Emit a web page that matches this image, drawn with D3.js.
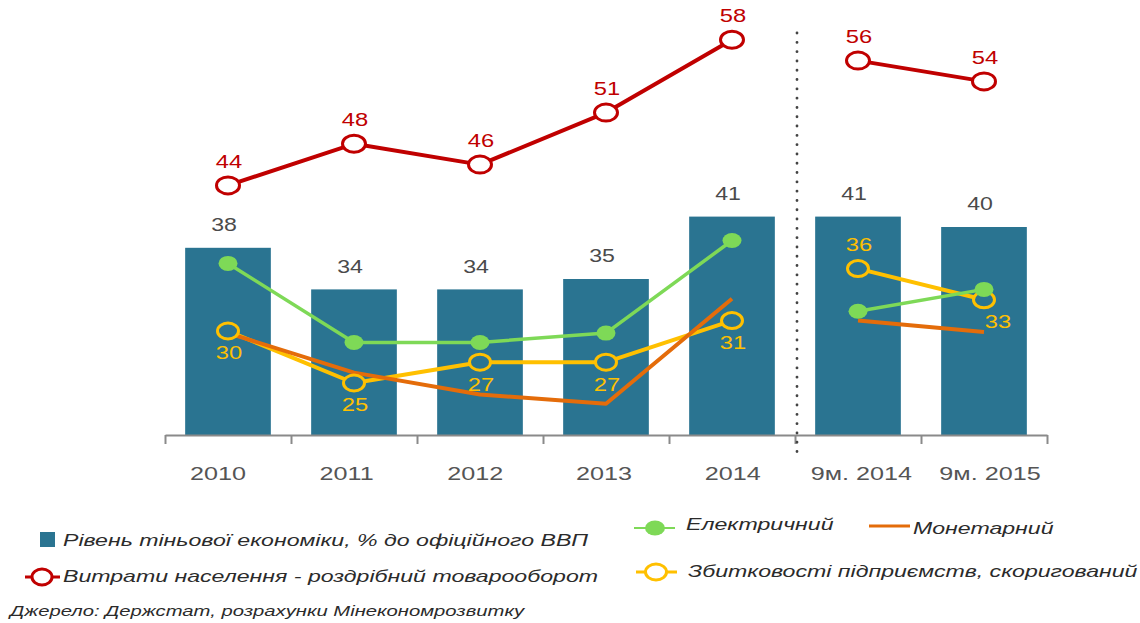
<!DOCTYPE html>
<html>
<head>
<meta charset="utf-8">
<script src="https://cdn.jsdelivr.net/npm/d3@7"></script>
<style>
  html, body { margin: 0; padding: 0; background: #fff; }
  svg { display: block; font-family: "Liberation Sans", Arial, sans-serif; }
</style>
</head>
<body>
<svg id="chart" width="1140" height="623"></svg>
<script>
// дані
var categories = ['2010', '2011', '2012', '2013', '2014', '9м. 2014', '9м. 2015'];
var shadowLevel = [38, 34, 34, 35, 41, 41, 40];              // Рівень тіньової економіки
var retailSpend = [44, 48, 46, 51, 58, 56, 54];              // Витрати населення
var electric    = [36.5, 28.9, 28.9, 29.8, 38.7, 31.9, 34.0];
var monetary    = [29.8, 26.0, 23.9, 23.0, 33.1, 31.0, 29.9];
var lossMethod  = [30, 25, 27, 27, 31, 36, 33];             // Збитковості підприємств
var lossLabelSide = ['below', 'below', 'below', 'below', 'below', 'above', 'below'];
var segments = [[0, 1, 2, 3, 4], [5, 6]];                    // розрив після 2014

var legendItems = [
    { key: 'bar',   text: 'Рівень тіньової економіки, % до офіційного ВВП' },
    { key: 'red',   text: 'Витрати населення - роздрібний товарооборот' },
    { key: 'green', text: 'Електричний' },
    { key: 'orange', text: 'Монетарний' },
    { key: 'yellow', text: 'Збитковості підприємств, скоригований' }
];
var sourceText = 'Джерело: Держстат, розрахунки Мінекономрозвитку';

var C = {
    bar: '#2a7491', red: '#c00000', green: '#7ed957', orange: '#e46c0a',
    yellow: '#ffc000', axis: '#8a8a8a', label: '#4a4a4a', legend: '#2b2b2b'
};
var SX = 1.32;   // горизонтальне розтягнення тексту як в оригіналі
var LSX = 1.36;  // те саме для легенди

var svg = d3.select('#chart');
svg.append('rect').attr('width', 1140).attr('height', 623).attr('fill', '#fff');

var x = d3.scaleBand().domain(categories).range([165, 1047])
    .paddingInner(0.32).paddingOuter(0.16);
var edge = d3.scaleLinear().domain([0, categories.length]).range([165, 1047]);
var labelX = d3.scalePoint().domain(categories).range([218, 990]);
var y = d3.scaleLinear().domain([20, 60]).range([435, 19]);
var cx = function (i) { return x(categories[i]) + x.bandwidth() / 2; };

function stretched(g, px, py, txt, opts) {
    return g.append('text')
        .attr('transform', 'translate(' + px + ',' + py + ') scale(' + (opts.sx || SX) + ',1)')
        .attr('text-anchor', opts.anchor || 'middle')
        .attr('dy', '0.35em')
        .attr('font-size', opts.size || 17)
        .attr('font-style', opts.italic ? 'italic' : null)
        .attr('fill', opts.fill)
        .text(txt);
}

// стовпці
svg.append('g').selectAll('rect').data(shadowLevel).join('rect')
    .attr('x', function (d, i) { return x(categories[i]); })
    .attr('y', function (d) { return y(d); })
    .attr('width', x.bandwidth())
    .attr('height', function (d) { return y(20) - y(d); })
    .attr('fill', C.bar);

var barLbl = svg.append('g');
shadowLevel.forEach(function (d, i) {
    stretched(barLbl, cx(i) - 4, y(d) - 23, d, { fill: C.label, size: 17.5 });
});

// вісь X: лінія і риски на межах категорій
var axisG = svg.append('g').attr('transform', 'translate(0,' + y(20) + ')')
    .call(d3.axisBottom(edge).tickValues(d3.range(categories.length + 1))
        .tickSize(9).tickSizeOuter(0).tickFormat(''));
axisG.selectAll('path, line').attr('stroke', C.axis).attr('stroke-width', 2);

var catLbl = svg.append('g');
categories.forEach(function (c) {
    stretched(catLbl, labelX(c), 474, c, { fill: '#555', size: 18, sx: 1.4 });
});

// пунктирний роздільник
var sepX = edge(5) + 2;
svg.append('line')
    .attr('x1', sepX).attr('x2', sepX).attr('y1', 33).attr('y2', 455)
    .attr('stroke', '#444').attr('stroke-width', 2.8)
    .attr('stroke-linecap', 'round').attr('stroke-dasharray', '0.1,9.2');

var line = function (vals) {
    return d3.line().x(function (i) { return cx(i); }).y(function (i) { return y(vals[i]); });
};
function drawLine(vals, color, w) {
    svg.append('g').selectAll('path').data(segments).join('path')
        .attr('d', line(vals)).attr('fill', 'none')
        .attr('stroke', color).attr('stroke-width', w)
        .attr('stroke-linejoin', 'round');
}

drawLine(lossMethod, C.yellow, 4);
drawLine(monetary, C.orange, 4);
drawLine(electric, C.green, 3.5);

// маркери: жовті кільця, зелені точки
svg.append('g').selectAll('ellipse').data(lossMethod).join('ellipse')
    .attr('cx', function (d, i) { return cx(i); })
    .attr('cy', function (d) { return y(d); })
    .attr('rx', 10.5).attr('ry', 8)
    .attr('fill', C.bar).attr('stroke', C.yellow).attr('stroke-width', 3);

svg.append('g').selectAll('ellipse').data(electric).join('ellipse')
    .attr('cx', function (d, i) { return cx(i); })
    .attr('cy', function (d) { return y(d); })
    .attr('rx', 9.5).attr('ry', 7.5)
    .attr('fill', C.green);

var lossLbl = svg.append('g');
lossMethod.forEach(function (d, i) {
    var up = lossLabelSide[i] === 'above';
    var dx = i === 6 ? 14 : 1;
    stretched(lossLbl, cx(i) + dx, y(d) + (up ? -24 : 22), d, { fill: C.yellow, size: 18 });
});

drawLine(retailSpend, C.red, 4);
svg.append('g').selectAll('ellipse').data(retailSpend).join('ellipse')
    .attr('cx', function (d, i) { return cx(i); })
    .attr('cy', function (d) { return y(d); })
    .attr('rx', 11.5).attr('ry', 8.5)
    .attr('fill', '#fff').attr('stroke', C.red).attr('stroke-width', 3);

var redLbl = svg.append('g');
retailSpend.forEach(function (d, i) {
    stretched(redLbl, cx(i) + 1, y(d) - 24, d, { fill: C.red, size: 18 });
});

// легенда
var lg = svg.append('g');
var lgText = function (px, py, txt) {
    return stretched(lg, px, py, txt, { anchor: 'start', italic: true, size: 17, sx: LSX, fill: C.legend });
};
lg.append('rect').attr('x', 40).attr('y', 532).attr('width', 15).attr('height', 15).attr('fill', C.bar);
lgText(63, 540, legendItems[0].text);

lg.append('line').attr('x1', 25).attr('x2', 60).attr('y1', 577).attr('y2', 577)
    .attr('stroke', C.red).attr('stroke-width', 3);
lg.append('ellipse').attr('cx', 42).attr('cy', 577).attr('rx', 10).attr('ry', 8)
    .attr('fill', '#fff').attr('stroke', C.red).attr('stroke-width', 3);
lgText(63, 576, legendItems[1].text);

lg.append('line').attr('x1', 634).attr('x2', 675).attr('y1', 528).attr('y2', 528)
    .attr('stroke', C.green).attr('stroke-width', 2);
lg.append('ellipse').attr('cx', 655).attr('cy', 528).attr('rx', 10).attr('ry', 7.5).attr('fill', C.green);
lgText(686, 524, legendItems[2].text);

lg.append('line').attr('x1', 869).attr('x2', 910).attr('y1', 526).attr('y2', 526)
    .attr('stroke', C.orange).attr('stroke-width', 3);
lgText(913, 528, legendItems[3].text);

lg.append('line').attr('x1', 636).attr('x2', 677).attr('y1', 572).attr('y2', 572)
    .attr('stroke', C.yellow).attr('stroke-width', 3);
lg.append('ellipse').attr('cx', 656).attr('cy', 572).attr('rx', 10.5).attr('ry', 8)
    .attr('fill', '#fff').attr('stroke', C.yellow).attr('stroke-width', 3);
lgText(688, 571, legendItems[4].text);

stretched(lg, 10, 611, sourceText, { anchor: 'start', italic: true, size: 15, sx: 1.35, fill: C.legend });
</script>
</body>
</html>
